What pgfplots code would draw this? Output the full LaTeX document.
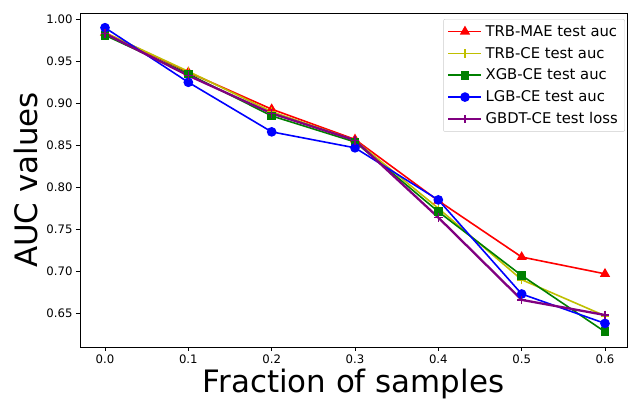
\documentclass[border=0pt]{standalone}
\usepackage{fontspec}
\setmainfont{DejaVu Sans}
\usepackage{pgfplots}
\pgfplotsset{compat=1.18}
\definecolor{mred}{rgb}{1,0,0}
\definecolor{myel}{rgb}{0.75,0.75,0}
\definecolor{mgreen}{rgb}{0,0.5,0}
\definecolor{mblue}{rgb}{0,0,1}
\definecolor{mpurp}{rgb}{0.5,0,0.5}
\begin{document}
\begin{tikzpicture}
\useasboundingbox (-80bp,-52bp) rectangle (548bp,347bp);
\begin{axis}[
  scale only axis, width=547bp, height=334bp,
  at={(0,0)}, anchor=south west,
  xmin=-0.030, xmax=0.6264, ymin=0.6099, ymax=1.0075,
  xtick={0,0.1,0.2,0.3,0.4,0.5,0.6},
  ytick={0.65,0.70,0.75,0.80,0.85,0.90,0.95,1.00},
  xticklabel style={/pgf/number format/.cd, fixed, fixed zerofill, precision=1},
  yticklabel style={/pgf/number format/.cd, fixed, fixed zerofill, precision=2},
  /pgf/number format/assume math mode=true,
  tick label style={font=\fontsize{11.7bp}{14bp}\selectfont},
  tick align=outside, xtick pos=bottom, ytick pos=left,
  major tick length=4bp,
  every tick/.style={black, line width=0.9bp},
  axis line style={line width=0.9bp},
  xlabel={Fraction of samples},
  ylabel={AUC values},
  label style={font=\fontsize{30.9bp}{34bp}\selectfont},
  xlabel style={at={(axis description cs:0.5,0)}, anchor=center, yshift=-37bp},
  ylabel style={at={(axis description cs:-0.099,0.5)}, anchor=center},
  legend style={at={(rel axis cs:0.9963,0.982)}, anchor=north east,
    font=\fontsize{14.8bp}{17bp}\selectfont, draw=black!20, rounded corners=2bp,
    nodes={inner xsep=3bp, inner ysep=2.2bp},
    row sep=5bp, inner xsep=4bp, inner ysep=4bp,
    /tikz/every even column/.append style={column sep=4bp}},
  legend cell align=left,
  legend image code/.code={\draw[mark repeat=2, mark phase=2, #1] plot coordinates {(0bp,0bp) (16.5bp,0bp) (33bp,0bp)};},
]
\addplot[mred, line width=1.6bp, mark=triangle*, mark size=4.3bp, mark options={solid}] coordinates {
(0.0,0.984) (0.1,0.937) (0.2,0.893) (0.3,0.857) (0.4,0.784) (0.5,0.717) (0.6,0.697)};
\addlegendentry{TRB-MAE test auc}
\addplot[myel, line width=1.6bp, mark=+, mark size=4.3bp, mark options={solid}] coordinates {
(0.0,0.984) (0.1,0.938) (0.2,0.890) (0.3,0.856) (0.4,0.775) (0.5,0.690) (0.6,0.647)};
\addlegendentry{TRB-CE test auc}
\addplot[mgreen, line width=1.6bp, mark=square*, mark size=3.5bp, mark options={solid}] coordinates {
(0.0,0.981) (0.1,0.935) (0.2,0.885) (0.3,0.854) (0.4,0.771) (0.5,0.695) (0.6,0.628)};
\addlegendentry{XGB-CE test auc}
\addplot[mblue, line width=1.6bp, mark=*, mark size=4bp, mark options={solid}] coordinates {
(0.0,0.990) (0.1,0.925) (0.2,0.866) (0.3,0.847) (0.4,0.785) (0.5,0.673) (0.6,0.638)};
\addlegendentry{LGB-CE test auc}
\addplot[mpurp, line width=2.3bp, mark=+, mark size=4.3bp, mark options={solid, line width=1.4bp}] coordinates {
(0.0,0.983) (0.1,0.933) (0.2,0.888) (0.3,0.856) (0.4,0.764) (0.5,0.666) (0.6,0.648)};
\addlegendentry{GBDT-CE test loss}
\end{axis}
\end{tikzpicture}
\end{document}
